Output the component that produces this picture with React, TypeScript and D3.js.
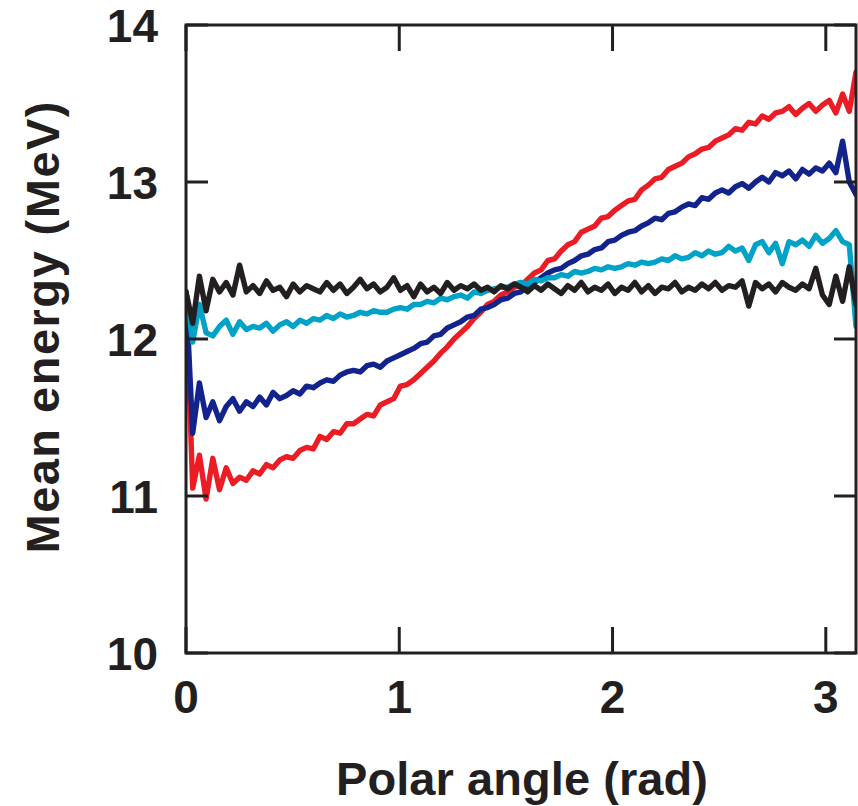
import React from "react";
import * as d3 from "d3";

// Polar angle grid: 101 equally spaced bins from 0 to pi
const N_BINS = 101;
const angleMax = Math.PI;
const angles: number[] = Array.from({ length: N_BINS }, (_, i) => (i * angleMax) / (N_BINS - 1));

const xTicks = [0, 1, 2, 3];
const yTicks = [10, 11, 12, 13, 14];

const seriesRed = [
  12.30, 11.05, 11.26, 10.98, 11.24, 11.04, 11.18, 11.08, 11.12, 11.10,
  11.16, 11.14, 11.20, 11.18, 11.23, 11.25, 11.24, 11.29, 11.31, 11.30,
  11.38, 11.36, 11.41, 11.40, 11.46, 11.46, 11.49, 11.52, 11.51, 11.58,
  11.60, 11.62, 11.70, 11.71, 11.74, 11.78, 11.82, 11.86, 11.91, 11.95,
  12.00, 12.04, 12.08, 12.13, 12.17, 12.22, 12.24, 12.28, 12.30, 12.33,
  12.34, 12.38, 12.42, 12.44, 12.50, 12.51, 12.56, 12.60, 12.62, 12.68,
  12.70, 12.72, 12.77, 12.78, 12.82, 12.85, 12.88, 12.89, 12.95, 12.98,
  13.02, 13.03, 13.08, 13.10, 13.12, 13.16, 13.18, 13.21, 13.22, 13.26,
  13.28, 13.30, 13.34, 13.33, 13.38, 13.37, 13.42, 13.40, 13.44, 13.45,
  13.48, 13.43, 13.47, 13.50, 13.45, 13.49, 13.52, 13.44, 13.56, 13.45,
  13.70,
];

const seriesBlue = [
  12.30, 11.40, 11.72, 11.50, 11.60, 11.48, 11.57, 11.62, 11.54, 11.60,
  11.57, 11.63, 11.58, 11.66, 11.62, 11.64, 11.67, 11.65, 11.70, 11.69,
  11.72, 11.74, 11.73, 11.77, 11.79, 11.80, 11.79, 11.83, 11.84, 11.82,
  11.86, 11.88, 11.90, 11.92, 11.94, 11.97, 11.98, 12.02, 12.03, 12.07,
  12.09, 12.11, 12.14, 12.15, 12.19, 12.20, 12.22, 12.25, 12.26, 12.29,
  12.30, 12.34, 12.36, 12.39, 12.42, 12.44, 12.45, 12.48, 12.50, 12.53,
  12.54, 12.57, 12.58, 12.62, 12.63, 12.66, 12.68, 12.69, 12.72, 12.74,
  12.77, 12.76, 12.80, 12.81, 12.84, 12.86, 12.85, 12.90, 12.89, 12.93,
  12.95, 12.93, 12.97, 12.99, 12.96, 13.00, 13.03, 13.00, 13.06, 13.04,
  13.07, 13.02, 13.08, 13.05, 13.09, 13.07, 13.12, 13.06, 13.26, 13.00,
  12.92,
];

const seriesCyan = [
  12.30, 11.98, 12.22, 12.04, 12.02, 12.08, 12.12, 12.03, 12.11, 12.06,
  12.08, 12.07, 12.10, 12.05, 12.09, 12.11, 12.08, 12.12, 12.10, 12.13,
  12.12, 12.15, 12.13, 12.16, 12.14, 12.15, 12.17, 12.16, 12.18, 12.17,
  12.17, 12.19, 12.20, 12.19, 12.22, 12.22, 12.24, 12.23, 12.26, 12.25,
  12.27, 12.28, 12.26, 12.30, 12.29, 12.31, 12.32, 12.33, 12.33, 12.35,
  12.36, 12.35, 12.38, 12.37, 12.39, 12.39, 12.41, 12.40, 12.43, 12.42,
  12.43, 12.45, 12.44, 12.46, 12.45, 12.46, 12.48, 12.47, 12.49, 12.48,
  12.49, 12.51, 12.50, 12.53, 12.51, 12.52, 12.55, 12.53, 12.56, 12.54,
  12.55, 12.59, 12.56, 12.58, 12.50, 12.60, 12.62, 12.55, 12.61, 12.48,
  12.62, 12.60, 12.63, 12.59, 12.66, 12.61, 12.64, 12.69, 12.62, 12.60,
  12.08,
];

const seriesBlack = [
  12.30, 12.10, 12.40, 12.18, 12.38, 12.30, 12.36, 12.28, 12.47, 12.30,
  12.34, 12.29, 12.37, 12.31, 12.33, 12.27, 12.35, 12.30, 12.34, 12.32,
  12.30, 12.36, 12.31, 12.35, 12.29, 12.33, 12.38, 12.32, 12.35, 12.30,
  12.33, 12.39, 12.31, 12.34, 12.27, 12.35, 12.30, 12.33, 12.29, 12.36,
  12.31, 12.34, 12.32, 12.35, 12.31, 12.33, 12.30, 12.34, 12.32, 12.35,
  12.33, 12.30, 12.34, 12.31, 12.35, 12.32, 12.29, 12.34, 12.31, 12.36,
  12.30, 12.33, 12.31, 12.35, 12.29, 12.33, 12.31, 12.36, 12.30, 12.34,
  12.29, 12.33, 12.32, 12.36, 12.30, 12.33, 12.31, 12.35, 12.32, 12.36,
  12.31, 12.34, 12.33, 12.37, 12.21, 12.36, 12.32, 12.35, 12.30, 12.36,
  12.33, 12.31, 12.35, 12.32, 12.45, 12.28, 12.22, 12.40, 12.24, 12.46,
  12.22,
];

const seriesList = [
  { name: "red", values: seriesRed, color: "#ec1c24" },
  { name: "blue", values: seriesBlue, color: "#13238c" },
  { name: "cyan", values: seriesCyan, color: "#00a2c8" },
  { name: "black", values: seriesBlack, color: "#231f20" },
];

const W = 858;
const H = 806;
const left = 186;
const right = 856;
const top = 25;
const bottom = 653;
const ink = "#231f20";
const font = "'Liberation Sans', Arial, Helvetica, sans-serif";

export default function App() {
  const x = d3.scaleLinear().domain([0, Math.PI]).range([left, right]);
  const y = d3.scaleLinear().domain([10, 14]).range([bottom, top]);
  const line = d3
    .line<number>()
    .x((_, i) => x(angles[i]))
    .y((d) => y(d));

  return (
    <svg
      width={W}
      height={H}
      style={{ position: "absolute", left: 0, top: 0, background: "#fff" }}
      fontFamily={font}
    >
      <defs>
        <clipPath id="plotClip">
          <rect x={left} y={top} width={right - left} height={bottom - top} />
        </clipPath>
      </defs>
      <g clipPath="url(#plotClip)">
        {seriesList.map((s) => (
          <path
            key={s.name}
            d={line(s.values) || ""}
            fill="none"
            stroke={s.color}
            strokeWidth={5.4}
            strokeLinejoin="round"
            strokeLinecap="round"
          />
        ))}
      </g>
      {/* frame */}
      <rect x={left} y={top} width={right - left} height={bottom - top} fill="none" stroke={ink} strokeWidth={3} />
      {/* x ticks */}
      {xTicks.map((t) => (
        <g key={"xt" + t}>
          <line x1={x(t)} x2={x(t)} y1={bottom} y2={bottom - 26} stroke={ink} strokeWidth={3} />
          <line x1={x(t)} x2={x(t)} y1={top} y2={top + 26} stroke={ink} strokeWidth={3} />
          <text x={x(t)} y={713} textAnchor="middle" fontSize={46} fontWeight="bold" fill={ink}>
            {t}
          </text>
        </g>
      ))}
      {/* y ticks */}
      {yTicks.map((t) => (
        <g key={"yt" + t}>
          <line x1={left} x2={left + 22} y1={y(t)} y2={y(t)} stroke={ink} strokeWidth={3} />
          <line x1={right} x2={right - 22} y1={y(t)} y2={y(t)} stroke={ink} strokeWidth={3} />
          <text x={158} y={y(t) + 16.5} textAnchor="end" fontSize={46} fontWeight="bold" fill={ink}>
            {t}
          </text>
        </g>
      ))}
      <text
        x={522}
        y={795}
        textAnchor="middle"
        fontSize={47}
        fontWeight="bold"
        fill={ink}
        textLength={372}
        lengthAdjust="spacing"
      >
        Polar angle (rad)
      </text>
      <text
        transform="translate(59, 327.5) rotate(-90)"
        textAnchor="middle"
        fontSize={47}
        fontWeight="bold"
        fill={ink}
        textLength={452}
        lengthAdjust="spacing"
      >
        Mean energy (MeV)
      </text>
    </svg>
  );
}
